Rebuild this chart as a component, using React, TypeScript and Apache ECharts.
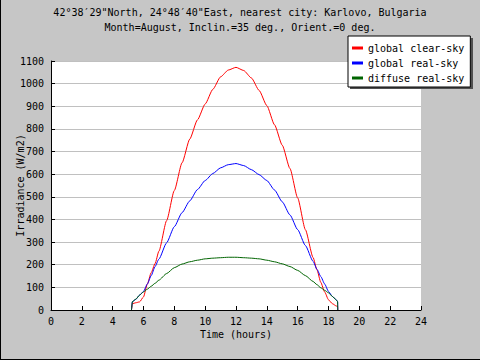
import React, { useEffect, useRef } from "react";
import * as echarts from "echarts";

const titleLine1 = "42°38′29\"North, 24°48′40\"East, nearest city: Karlovo, Bulgaria";
const titleLine2 = "Month=August, Inclin.=35 deg., Orient.=0 deg.";
const seriesNames = ["global clear-sky", "global real-sky", "diffuse real-sky"];
const seriesColors = ["#ff0000", "#0000ff", "#006400"];

const hours = [5.22, 5.28, 5.5, 5.75, 6, 6.25, 6.5, 6.75, 7, 7.5, 8, 8.5, 9, 9.5, 10, 10.5, 11, 11.5, 12, 12.5, 13, 13.5, 14, 14.5, 15, 15.5, 16, 16.5, 17, 17.25, 17.5, 17.75, 18, 18.25, 18.5, 18.59, 18.6];
const clearSky = [0, 28, 32, 36, 58, 115, 165, 205, 260, 395, 528, 650, 755, 840, 910, 975, 1030, 1060, 1072, 1058, 1025, 970, 903, 818, 728, 625, 495, 355, 232, 178, 122, 80, 45, 28, 18, 15, 0];
const realSky = [0, 37, 47, 66, 82, 115, 152, 192, 225, 297, 368, 430, 482, 532, 572, 603, 628, 642, 647, 638, 620, 598, 572, 530, 478, 420, 355, 285, 215, 180, 148, 115, 82, 60, 45, 37, 0];
const diffuseSky = [0, 37, 48, 66, 80, 92, 105, 118, 132, 161, 187, 203, 213, 220, 226, 229, 231, 233, 233, 231, 229, 226, 220, 213, 204, 192, 175, 152, 126, 112, 98, 87, 76, 60, 45, 37, 0];

const FONT = "DejaVu Sans Mono";

export default function App() {
  const ref = useRef<HTMLDivElement>(null);
  useEffect(() => {
    document.body.style.margin = "0";
    const chart = echarts.init(ref.current!, null, { renderer: "svg" });
    const values = [clearSky, realSky, diffuseSky];
    chart.setOption({
      animation: false,
      backgroundColor: "#c6c6c6",
      textStyle: { fontFamily: FONT, color: "#000" },
      title: {
        text: titleLine1 + "\n" + titleLine2,
        left: "center",
        top: 5,
        padding: [0, 10, 0, 0],
        textStyle: { fontFamily: FONT, fontSize: 10, fontWeight: "normal", color: "#000", lineHeight: 15 },
      },
      legend: {
        data: seriesNames,
        orient: "vertical",
        left: 348,
        top: 36,
        z: 10,
        padding: [6, 6, 3, 4],
        itemGap: 3,
        itemWidth: 11,
        itemHeight: 3,
        icon: "rect",
        backgroundColor: "#ffffff",
        borderColor: "#000000",
        borderWidth: 1,
        borderRadius: 0,
        textStyle: { fontFamily: FONT, fontSize: 10, color: "#000", lineHeight: 12, padding: [0, 0, 0, 0] },
      },
      graphic: [
        { type: "rect", z: 1, shape: { x: 350, y: 38, width: 123, height: 51 }, style: { fill: "#505050" } },
        { type: "line", z: 1, shape: { x1: 0.5, y1: 0, x2: 0.5, y2: 360 }, style: { stroke: "#000", lineWidth: 1 } },
        { type: "line", z: 1, shape: { x1: 0, y1: 359.5, x2: 480, y2: 359.5 }, style: { stroke: "#000", lineWidth: 1 } },
      ],
      grid: {
        left: 51,
        right: 59,
        top: 61,
        bottom: 50,
        containLabel: false,
        outerBoundsMode: "none",
        show: true,
        backgroundColor: "#ffffff",
        borderWidth: 0,
      },
      xAxis: {
        type: "value",
        min: 0,
        max: 24,
        interval: 2,
        name: "Time (hours)",
        nameLocation: "middle",
        nameGap: 19,
        nameMoveOverlap: false,
        nameTextStyle: { fontFamily: FONT, fontSize: 10, color: "#000" },
        axisLine: { show: true, lineStyle: { color: "#000", width: 1 } },
        axisTick: { show: true, inside: true, length: 4, lineStyle: { color: "#000" } },
        axisLabel: { fontFamily: FONT, fontSize: 10, color: "#000", margin: 6, formatter: (v: number) => String(v) },
        splitLine: { show: false },
      },
      yAxis: {
        type: "value",
        min: 0,
        max: 1100,
        interval: 100,
        name: "Irradiance (W/m2)",
        nameLocation: "middle",
        nameGap: 26,
        nameMoveOverlap: false,
        nameTextStyle: { fontFamily: FONT, fontSize: 10, color: "#000" },
        axisLine: { show: true, lineStyle: { color: "#000", width: 1 } },
        axisTick: { show: true, inside: true, length: 4, lineStyle: { color: "#000" } },
        axisLabel: { fontFamily: FONT, fontSize: 10, color: "#000", margin: 7, formatter: (v: number) => String(v) },
        splitLine: { show: true, lineStyle: { color: "#c0c0c0", width: 1 } },
      },
      series: seriesNames.map((name, i) => ({
        name,
        type: "line",
        symbol: "none",
        smooth: 0.2,
        smoothMonotone: "x",
        color: seriesColors[i],
        lineStyle: { color: seriesColors[i], width: 1 },
        data: hours.map((h, j) => [h, values[i][j]]),
      })),
    });
    return () => chart.dispose();
  }, []);
  return <div ref={ref} style={{ position: "fixed", left: 0, top: 0, width: 480, height: 360 }} />;
}
